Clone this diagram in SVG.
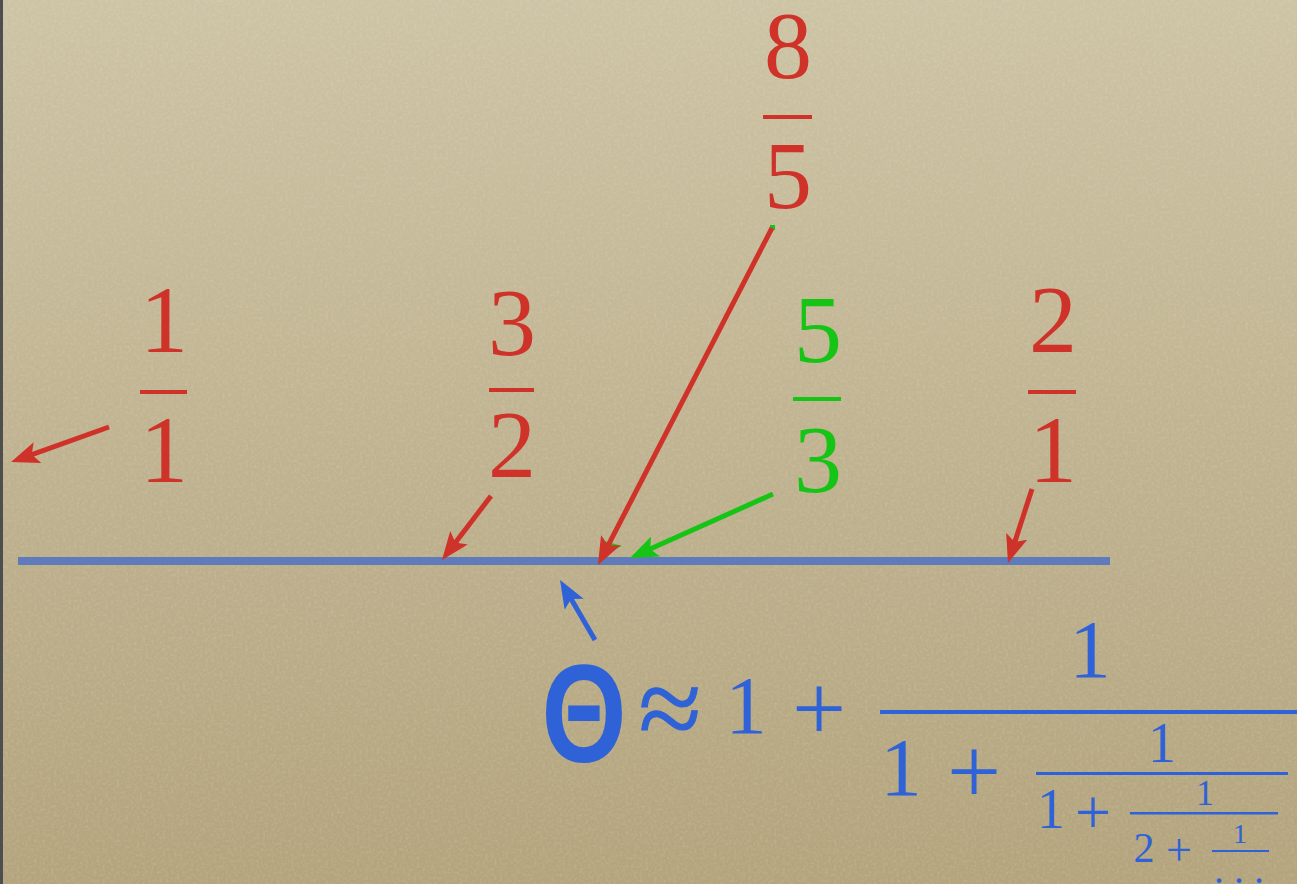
<svg xmlns="http://www.w3.org/2000/svg" width="1297" height="884" viewBox="0 0 1297 884">
  <defs>
    <linearGradient id="bg" x1="0" y1="0" x2="0" y2="1">
      <stop offset="0" stop-color="#cdc4a5"/>
      <stop offset="0.5" stop-color="#c0b391"/>
      <stop offset="1" stop-color="#b3a47d"/>
    </linearGradient>
    <filter id="grain" x="0" y="0" width="100%" height="100%">
      <feTurbulence type="fractalNoise" baseFrequency="0.35" numOctaves="3" seed="4" result="n"/>
      <feColorMatrix type="matrix" values="0 0 0 0 0.95  0 0 0 0 0.92  0 0 0 0 0.82  0.55 0 0 0 -0.22"/>
    </filter>
    <marker id="ahRed" viewBox="0 0 28 22" markerWidth="28" markerHeight="22" refX="14" refY="11" orient="auto" markerUnits="userSpaceOnUse">
      <path d="M0,0 L28,11 L0,22 L6,11 Z" fill="#cf3229"/>
    </marker>
    <marker id="ahGreen" viewBox="0 0 28 22" markerWidth="28" markerHeight="22" refX="14" refY="11" orient="auto" markerUnits="userSpaceOnUse">
      <path d="M0,0 L28,11 L0,22 L6,11 Z" fill="#16c416"/>
    </marker>
    <marker id="ahBlue" viewBox="0 0 28 22" markerWidth="28" markerHeight="22" refX="14" refY="11" orient="auto" markerUnits="userSpaceOnUse">
      <path d="M0,0 L28,11 L0,22 L6,11 Z" fill="#2f62d6"/>
    </marker>
    <style>
      .num { font-family: "Liberation Serif", "DejaVu Serif", serif; font-size: 96px; text-anchor: middle; }
      .red { fill: #cf3229; }
      .green { fill: #16c416; }
      .blue { fill: #2f62d6; }
      .fm { font-family: "Liberation Serif", "DejaVu Serif", serif; text-anchor: middle; fill: #2f62d6; }
      .arr { stroke-width: 5; fill: none; stroke-linecap: butt; }
    </style>
  </defs>

  <rect x="0" y="0" width="1297" height="884" fill="url(#bg)"/>
  <rect x="0" y="0" width="1297" height="884" filter="url(#grain)" opacity="0.5"/>
  <rect x="0" y="0" width="3" height="884" fill="#4e4e4e"/>

  <g id="number-line">
    <rect x="18" y="557" width="1092" height="8" fill="#5f7bb9"/>
  </g>

  <g id="frac-1-1" class="red">
    <text class="num red" x="164" y="352">1</text>
    <rect x="140" y="390" width="47" height="4"/>
    <text class="num red" x="164" y="482">1</text>
  </g>

  <g id="frac-3-2" class="red">
    <text class="num red" x="512" y="355">3</text>
    <rect x="489" y="388" width="45" height="4"/>
    <text class="num red" x="512" y="477">2</text>
  </g>

  <g id="frac-8-5" class="red">
    <text class="num red" x="788" y="78">8</text>
    <rect x="763" y="115" width="49" height="4"/>
    <text class="num red" x="788" y="208">5</text>
  </g>

  <g id="frac-5-3" class="green">
    <text class="num green" x="818" y="362">5</text>
    <rect x="793" y="397" width="48" height="4"/>
    <text class="num green" x="818" y="492">3</text>
  </g>

  <g id="frac-2-1" class="red">
    <text class="num red" x="1053" y="352">2</text>
    <rect x="1028" y="390" width="48" height="4"/>
    <text class="num red" x="1053" y="482">1</text>
  </g>

  <g id="connectors">
    <path d="M604,541 L622,546 L608,552 Z" fill="#16c416"/>
    <rect x="770" y="225" width="5" height="5" fill="#16c416"/>
    <line class="arr" x1="109" y1="427" x2="24.2" y2="457.3" stroke="#cf3229" marker-end="url(#ahRed)"/>
    <line class="arr" x1="491" y1="496" x2="450.5" y2="548.9" stroke="#cf3229" marker-end="url(#ahRed)"/>
    <line class="arr" x1="772" y1="228" x2="604.4" y2="552.6" stroke="#cf3229" marker-end="url(#ahRed)"/>
    <line class="arr" x1="773" y1="494" x2="642.8" y2="552.3" stroke="#16c416" marker-end="url(#ahGreen)"/>
    <line class="arr" x1="1032" y1="489" x2="1012.3" y2="549.7" stroke="#cf3229" marker-end="url(#ahRed)"/>
    <line class="arr" x1="595" y1="640" x2="567.1" y2="592.1" stroke="#2f62d6" marker-end="url(#ahBlue)"/>
  </g>

  <g id="formula">
    <text x="0" y="0" transform="translate(584,762) scale(0.78,1)" font-family="Liberation Sans, Arial, sans-serif" font-weight="bold" font-size="140" text-anchor="middle" fill="#2f62d6">Θ</text>
    <text class="fm" x="670" y="747" font-size="115" stroke="#2f62d6" stroke-width="1">≈</text>
    <text class="fm" x="746" y="733" font-size="83">1</text>
    <text class="fm" x="819" y="740" font-size="96">+</text>
    <rect x="880" y="710" width="417" height="4" fill="#2f62d6"/>
    <text class="fm" x="1090" y="677" font-size="83">1</text>
    <text class="fm" x="901" y="795" font-size="83">1</text>
    <text class="fm" x="974" y="803" font-size="96">+</text>
    <rect x="1036" y="772" width="252" height="3" fill="#2f62d6"/>
    <text class="fm" x="1162" y="762" font-size="56">1</text>
    <text class="fm" x="1051" y="828" font-size="56">1</text>
    <text class="fm" x="1093" y="834" font-size="64">+</text>
    <rect x="1130" y="812" width="148" height="2.5" fill="#2f62d6"/>
    <text class="fm" x="1205" y="805" font-size="36">1</text>
    <text class="fm" x="1144" y="862" font-size="42">2</text>
    <text class="fm" x="1179" y="865" font-size="46">+</text>
    <rect x="1212" y="850" width="57" height="2" fill="#2f62d6"/>
    <text class="fm" x="1240" y="843" font-size="28">1</text>
    <text class="fm" x="1244" y="883" font-size="40" letter-spacing="10">...</text>
  </g>
</svg>
